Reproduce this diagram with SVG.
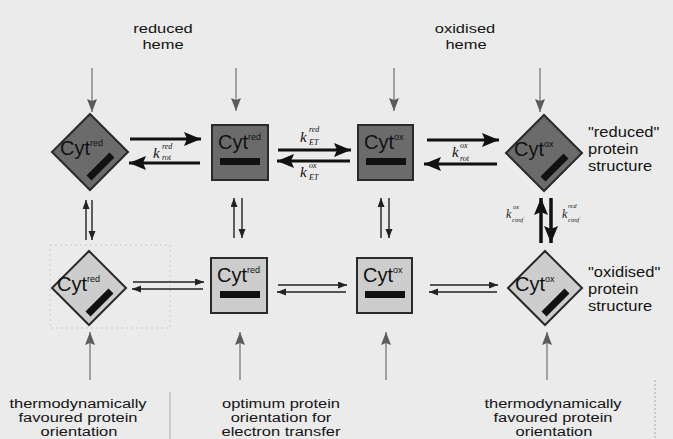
<svg xmlns="http://www.w3.org/2000/svg" width="673" height="439" viewBox="0 0 673 439">
  <defs>
    <marker id="headBig" markerUnits="userSpaceOnUse" markerWidth="18" markerHeight="14" refX="17" refY="7" orient="auto">
      <path d="M0,0 L17,7 L0,14 L3,7 z" fill="#111"/>
    </marker>
    <marker id="headSmall" markerUnits="userSpaceOnUse" markerWidth="10" markerHeight="8" refX="9" refY="3.5" orient="auto">
      <path d="M0,0 L9,3.5 L0,7 z" fill="#222"/>
    </marker>
    <marker id="headGray" markerUnits="userSpaceOnUse" markerWidth="14" markerHeight="11" refX="13" refY="5" orient="auto">
      <path d="M0,0 L13,5 L0,10 L2,5 z" fill="#5c5c5c"/>
    </marker>
  </defs>
  <style>
    .lbl{font-family:'Liberation Sans',Arial,sans-serif;font-size:13.5px;fill:#141414;text-anchor:middle}
    .lblL{font-family:'Liberation Sans',Arial,sans-serif;font-size:14px;fill:#141414;text-anchor:start}
    .cyt{font-family:'Liberation Sans',Arial,sans-serif;font-size:20px;fill:#111}
    .sup{font-size:9px}
    .k{font-family:'Liberation Serif','Times New Roman',serif;font-style:italic;font-size:15px;fill:#111}
    .ks{font-family:'Liberation Serif','Times New Roman',serif;font-style:italic;font-size:8px;fill:#111}
    .kv{font-family:'Liberation Serif','Times New Roman',serif;font-style:italic;font-size:12px;fill:#222}
    .kvs{font-family:'Liberation Serif','Times New Roman',serif;font-style:italic;font-size:6.5px;fill:#222}
    .dark{fill:#6b6b6b;stroke:#2a2a2a;stroke-width:2}
    .light{fill:#cdcdcd;stroke:#2a2a2a;stroke-width:2}
    .bar{fill:#111}
    .dbar{stroke:#111;stroke-width:7;fill:none}
    .thick{stroke:#111;stroke-width:2.8;fill:none;marker-end:url(#headBig)}
    .thin{stroke:#222;stroke-width:1.4;fill:none;marker-end:url(#headSmall)}
    .feed{stroke:#7a7a7a;stroke-width:1.3;fill:none;marker-end:url(#headGray)}
    .sep{stroke:#a8a8a8;stroke-width:1;fill:none}
  </style>

  <rect width="673" height="439" fill="#ebebeb"/>

  <!-- heading labels -->
  <g id="heading-labels">
    <text class="lbl" transform="translate(163,33) scale(1.22,1)">reduced</text>
    <text class="lbl" transform="translate(163,49) scale(1.22,1)">heme</text>
    <text class="lbl" transform="translate(465,33) scale(1.22,1)">oxidised</text>
    <text class="lbl" transform="translate(466,49) scale(1.22,1)">heme</text>
  </g>

  <!-- row labels -->
  <g id="row-labels">
    <text class="lblL" transform="translate(588,137) scale(1.18,1)">"reduced"</text>
    <text class="lblL" transform="translate(588,154) scale(1.18,1)">protein</text>
    <text class="lblL" transform="translate(588,171) scale(1.18,1)">structure</text>
    <text class="lblL" transform="translate(588,277) scale(1.18,1)">"oxidised"</text>
    <text class="lblL" transform="translate(588,294) scale(1.18,1)">protein</text>
    <text class="lblL" transform="translate(588,311) scale(1.18,1)">structure</text>
  </g>

  <!-- upper row: reduced protein structure -->
  <g id="node-red-rot-top">
    <polygon class="dark" points="90,114 128,152 90,190 52,152"/>
    <text class="cyt" x="60" y="155">Cyt<tspan class="sup" dy="-9">red</tspan></text>
    <line class="dbar" x1="112" y1="155" x2="89" y2="178"/>
  </g>
  <g id="node-red-top">
    <rect class="dark" x="212" y="125" width="56" height="55"/>
    <text class="cyt" x="218" y="149">Cyt<tspan class="sup" dy="-9">red</tspan></text>
    <rect class="bar" x="220" y="158" width="40" height="7"/>
  </g>
  <g id="node-ox-top">
    <rect class="dark" x="358" y="125" width="55" height="55"/>
    <text class="cyt" x="364" y="149">Cyt<tspan class="sup" dy="-9">ox</tspan></text>
    <rect class="bar" x="366" y="158" width="40" height="7"/>
  </g>
  <g id="node-ox-rot-top">
    <polygon class="dark" points="544,115 582,153 544,191 506,153"/>
    <text class="cyt" x="514" y="156">Cyt<tspan class="sup" dy="-9">ox</tspan></text>
    <line class="dbar" x1="566" y1="156" x2="543" y2="179"/>
  </g>

  <!-- lower row: oxidised protein structure -->
  <rect x="50" y="245" width="120" height="83" fill="none" stroke="#c9c9c9" stroke-width="1" stroke-dasharray="2 3"/>
  <g id="node-red-rot-bottom">
    <polygon class="light" points="89,251 126,288 89,325 52,288"/>
    <text class="cyt" x="57" y="291">Cyt<tspan class="sup" dy="-9">red</tspan></text>
    <line class="dbar" x1="111" y1="291" x2="88" y2="314"/>
  </g>
  <g id="node-red-bottom">
    <rect class="light" x="211" y="258" width="56" height="55"/>
    <text class="cyt" x="217" y="282">Cyt<tspan class="sup" dy="-9">red</tspan></text>
    <rect class="bar" x="220" y="291" width="40" height="7"/>
  </g>
  <g id="node-ox-bottom">
    <rect class="light" x="357" y="258" width="55" height="55"/>
    <text class="cyt" x="363" y="282">Cyt<tspan class="sup" dy="-9">ox</tspan></text>
    <rect class="bar" x="365" y="291" width="40" height="7"/>
  </g>
  <g id="node-ox-rot-bottom">
    <polygon class="light" points="545,251 582,288 545,325 508,288"/>
    <text class="cyt" x="515" y="291">Cyt<tspan class="sup" dy="-9">ox</tspan></text>
    <line class="dbar" x1="567" y1="291" x2="544" y2="314"/>
  </g>

  <!-- bottom captions -->
  <g id="captions">
    <text class="lbl" transform="translate(78,408) scale(1.22,1)">thermodynamically</text>
    <text class="lbl" transform="translate(78,422) scale(1.22,1)">favoured protein</text>
    <text class="lbl" transform="translate(79,436) scale(1.22,1)">orientation</text>
    <text class="lbl" transform="translate(281,408) scale(1.22,1)">optimum protein</text>
    <text class="lbl" transform="translate(281,422) scale(1.22,1)">orientation for</text>
    <text class="lbl" transform="translate(281,436) scale(1.22,1)">electron transfer</text>
    <text class="lbl" transform="translate(553,408) scale(1.22,1)">thermodynamically</text>
    <text class="lbl" transform="translate(553,422) scale(1.22,1)">favoured protein</text>
    <text class="lbl" transform="translate(554,436) scale(1.22,1)">orientation</text>
    <line class="sep" x1="170" y1="392" x2="170" y2="439"/>
    <line class="sep" x1="655" y1="380" x2="655" y2="439" stroke-dasharray="2 2"/>
  </g>

  <!-- connectors -->
  <g id="connectors">
    <!-- heme supply from above -->
    <line class="feed" x1="92" y1="68" x2="92" y2="112"/>
    <line class="feed" x1="236" y1="68" x2="236" y2="111"/>
    <line class="feed" x1="394" y1="68" x2="394" y2="111"/>
    <line class="feed" x1="540" y1="68" x2="540" y2="112"/>
    <!-- orientation from below -->
    <line class="feed" x1="90" y1="380" x2="90" y2="332"/>
    <line class="feed" x1="240" y1="380" x2="240" y2="332"/>
    <line class="feed" x1="386" y1="380" x2="386" y2="332"/>
    <line class="feed" x1="547" y1="380" x2="547" y2="332"/>

    <!-- upper row equilibria -->
    <line class="thick" x1="130" y1="139" x2="201" y2="139"/>
    <line class="thick" x1="200" y1="163" x2="129" y2="163"/>
    <line class="thick" x1="278" y1="150" x2="351" y2="150"/>
    <line class="thick" x1="350" y1="161" x2="277" y2="161"/>
    <line class="thick" x1="427" y1="140" x2="499" y2="140"/>
    <line class="thick" x1="497" y1="164" x2="424" y2="164"/>

    <!-- lower row equilibria -->
    <line class="thin" x1="133" y1="282" x2="204" y2="282"/>
    <line class="thin" x1="203" y1="289" x2="132" y2="289"/>
    <line class="thin" x1="278" y1="285" x2="347" y2="285"/>
    <line class="thin" x1="346" y1="292" x2="277" y2="292"/>
    <line class="thin" x1="430" y1="285" x2="498" y2="285"/>
    <line class="thin" x1="497" y1="292" x2="429" y2="292"/>

    <!-- structural equilibria between rows -->
    <line class="thin" x1="86" y1="240" x2="86" y2="200"/>
    <line class="thin" x1="92" y1="200" x2="92" y2="240"/>
    <line class="thin" x1="234" y1="238" x2="234" y2="198"/>
    <line class="thin" x1="242" y1="198" x2="242" y2="238"/>
    <line class="thin" x1="381" y1="238" x2="381" y2="198"/>
    <line class="thin" x1="389" y1="198" x2="389" y2="238"/>
    <line class="thick" x1="541" y1="243" x2="541" y2="198" style="stroke-width:3.5"/>
    <line class="thick" x1="551" y1="198" x2="551" y2="243" style="stroke-width:3.5"/>

    <!-- rate constants -->
    <text class="k" x="153" y="158">k</text>
    <text class="ks" x="162" y="149">red</text>
    <text class="ks" x="162" y="160">rot</text>

    <text class="k" x="300" y="142">k</text>
    <text class="ks" x="309" y="132">red</text>
    <text class="ks" x="309" y="145">ET</text>
    <text class="k" x="300" y="177">k</text>
    <text class="ks" x="309" y="168">ox</text>
    <text class="ks" x="309" y="180">ET</text>

    <text class="k" x="452" y="157">k</text>
    <text class="ks" x="460" y="148">ox</text>
    <text class="ks" x="460" y="161">rot</text>

    <text class="kv" x="506" y="218">k</text>
    <text class="kvs" x="513" y="209">ox</text>
    <text class="kvs" x="512" y="222">conf</text>
    <text class="kv" x="562" y="218">k</text>
    <text class="kvs" x="568" y="208">red</text>
    <text class="kvs" x="568" y="222">conf</text>
  </g>
</svg>
